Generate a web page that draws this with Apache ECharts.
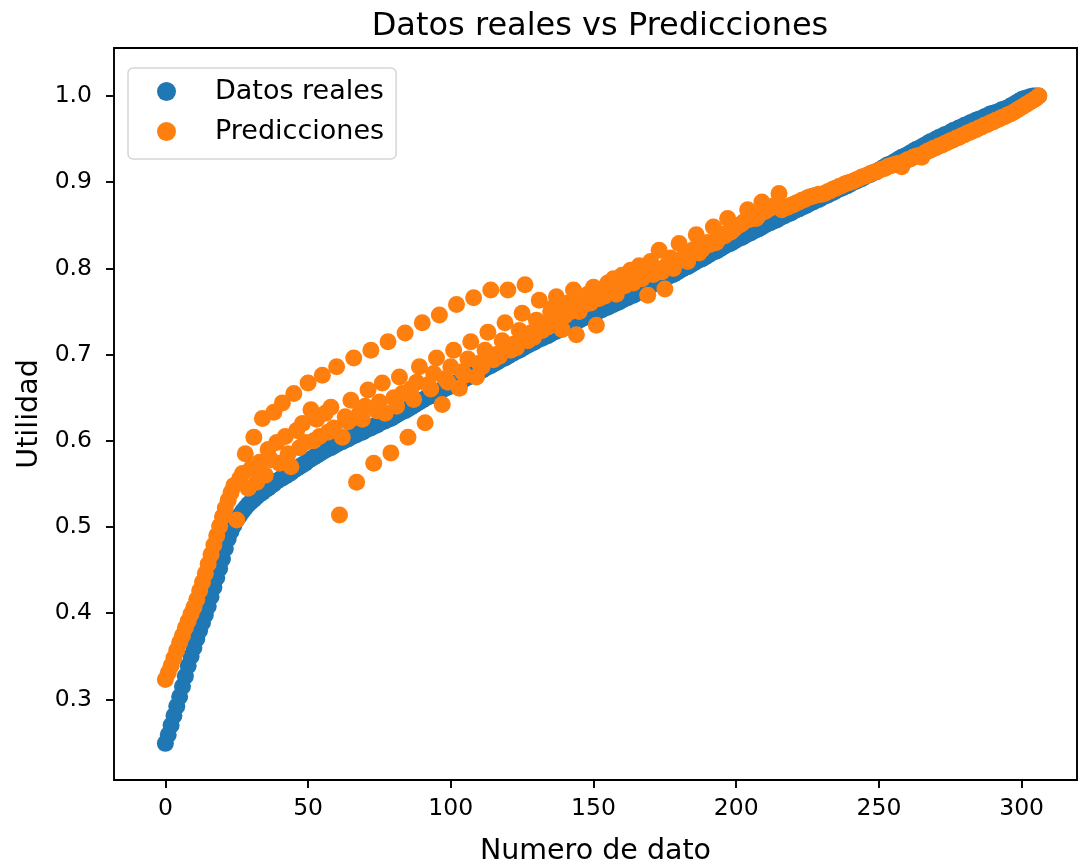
<!DOCTYPE html>
<html><head><meta charset="utf-8">
<script src="https://cdn.jsdelivr.net/npm/echarts@6/dist/echarts.min.js"></script>
<style>html,body{margin:0;padding:0;background:#fff}#c{width:1081px;height:866px}</style>
</head><body><div id="c"></div>
<script>
const chartTitle = 'Datos reales vs Predicciones';
const xName = 'Numero de dato';
const yName = 'Utilidad';
const seriesNames = ['Datos reales', 'Predicciones'];
const xTicks = [0, 50, 100, 150, 200, 250, 300];
const yTicks = [0.3, 0.4, 0.5, 0.6, 0.7, 0.8, 0.9, 1.0];

const datosReales = [
.249,.259,.270,.281,.292,.303,.315,.327,.339,.350,
.360,.370,.380,.389,.398,.408,.419,.430,.441,.452,
.463,.475,.486,.495,.502,.508,.513,.518,.522,.526,
.529,.532,.535,.538,.540,.543,.545,.548,.550,.553,
.555,.557,.559,.561,.563,.566,.568,.570,.572,.574,
.577,.579,.581,.583,.585,.587,.589,.591,.592,.594,
.596,.598,.599,.601,.602,.604,.606,.607,.609,.610,
.612,.614,.615,.617,.618,.620,.622,.623,.625,.626,
.628,.630,.632,.634,.635,.637,.639,.641,.643,.645,
.647,.649,.651,.652,.654,.656,.658,.659,.661,.662,
.664,.666,.667,.669,.670,.672,.674,.675,.677,.678,
.680,.682,.684,.686,.687,.689,.691,.693,.695,.696,
.698,.700,.702,.704,.705,.707,.709,.711,.713,.714,
.716,.718,.719,.721,.722,.724,.726,.727,.729,.730,
.732,.734,.735,.737,.738,.740,.742,.743,.745,.746,
.748,.749,.751,.752,.754,.755,.757,.758,.760,.761,
.763,.765,.766,.768,.769,.771,.773,.775,.776,.778,
.780,.782,.783,.785,.786,.788,.790,.792,.793,.795,
.797,.799,.801,.802,.804,.806,.808,.810,.811,.813,
.815,.817,.819,.820,.822,.824,.826,.828,.829,.831,
.833,.835,.836,.838,.840,.841,.843,.845,.846,.848,
.850,.852,.853,.855,.856,.858,.860,.861,.863,.864,
.866,.868,.869,.871,.872,.874,.876,.877,.879,.880,
.882,.884,.885,.887,.888,.890,.892,.893,.895,.896,
.898,.900,.901,.903,.904,.906,.908,.909,.911,.912,
.914,.916,.918,.920,.921,.923,.925,.927,.929,.930,
.932,.934,.936,.938,.939,.941,.943,.945,.947,.948,
.950,.952,.953,.955,.956,.958,.960,.961,.963,.964,
.966,.967,.969,.970,.972,.973,.974,.976,.977,.979,
.980,.981,.982,.984,.985,.986,.988,.990,.992,.994,
.996,.997,.998,.999,1.000,1.000,1.000
];

const predicciones = [
.323,.331,.339,.348,.357,.366,.374,.383,.391,.399,
.407,.416,.426,.436,.446,.457,.468,.479,.490,.501,
.512,.522,.531,.540,.548,.508,.556,.562,.585,.545,
.568,.604,.552,.575,.626,.560,.590,.578,.633,.598,
.574,.644,.605,.585,.570,.655,.612,.592,.620,.598,
.667,.636,.600,.625,.605,.676,.632,.610,.639,.615,
.686,.514,.604,.628,.622,.647,.696,.552,.632,.625,
.640,.659,.705,.574,.635,.645,.667,.632,.715,.586,
.650,.640,.674,.655,.725,.604,.660,.648,.668,.686,
.737,.621,.665,.660,.678,.696,.746,.642,.672,.668,
.686,.705,.758,.661,.680,.676,.695,.715,.766,.674,
.690,.686,.705,.726,.775,.694,.700,.698,.716,.737,
.775,.705,.712,.708,.728,.748,.781,.716,.725,.720,
.740,.763,.728,.735,.732,.750,.755,.767,.740,.729,
.745,.760,.750,.775,.723,.750,.765,.758,.770,.760,
.778,.734,.765,.775,.768,.783,.772,.788,.770,.778,
.792,.780,.785,.798,.783,.790,.803,.788,.795,.769,
.808,.793,.800,.821,.796,.776,.805,.812,.800,.808,
.829,.810,.815,.808,.818,.822,.839,.818,.822,.826,
.830,.828,.848,.830,.835,.840,.838,.858,.842,.845,
.848,.850,.852,.855,.868,.857,.860,.858,.862,.877,
.866,.868,.870,.872,.874,.887,.868,.870,.871,.873,
.874,.876,.877,.879,.880,.882,.883,.884,.885,.886,
.886,.887,.889,.890,.892,.893,.895,.896,.898,.899,
.900,.901,.903,.904,.906,.907,.908,.910,.911,.912,
.914,.915,.916,.918,.919,.920,.921,.922,.918,.924,
.926,.927,.929,.930,.931,.929,.934,.936,.937,.939,
.940,.942,.943,.945,.946,.948,.949,.951,.952,.954,
.955,.957,.958,.960,.961,.963,.964,.966,.967,.969,
.970,.972,.973,.975,.976,.978,.979,.981,.983,.985,
.987,.989,.991,.993,.995,.997,1.000
];

const FONT = 'DejaVu Sans';
const chart = echarts.init(document.getElementById('c'), null, {renderer: 'canvas'});
const toPoints = arr => arr.map((v, i) => [i, v]);

chart.setOption({
  animation: false,
  backgroundColor: '#ffffff',
  title: {
    text: chartTitle,
    left: 600, top: 11, textAlign: 'center', padding: 0,
    textStyle: {fontFamily: FONT, fontSize: 32, fontWeight: 'normal', color: '#000'}
  },
  legend: {
    orient: 'vertical',
    left: 128, top: 68,
    padding: [10, 12, 14, 29],
    itemGap: 13,
    itemWidth: 19, itemHeight: 19,
    icon: 'circle',
    backgroundColor: '#fff',
    borderColor: '#d6d6d6', borderWidth: 1.5, borderRadius: 5,
    textStyle: {fontFamily: FONT, fontSize: 27, color: '#000', padding: [0, 0, 0, 34], lineHeight: 27},
    data: seriesNames
  },
  grid: {
    left: 114, right: 4, top: 48, bottom: 86,
    show: true, borderColor: '#000', borderWidth: 1.9,
    outerBoundsMode: 'none'
  },
  xAxis: {
    type: 'value',
    min: -18, max: 319.4,
    name: xName, nameLocation: 'middle', nameGap: 57,
    nameTextStyle: {fontFamily: FONT, fontSize: 28.5, color: '#000'},
    axisLine: {show: false, onZero: false},
    splitLine: {show: false},
    axisTick: {show: true, length: 8, lineStyle: {color: '#000', width: 1.9}, customValues: xTicks},
    axisLabel: {fontFamily: FONT, fontSize: 23.5, color: '#000', margin: 17, customValues: xTicks}
  },
  yAxis: {
    type: 'value',
    min: 0.2065, max: 1.0557,
    name: yName, nameLocation: 'middle', nameGap: 70, nameRotate: 90,
    nameTextStyle: {fontFamily: FONT, fontSize: 28.5, color: '#000'},
    axisLine: {show: false, onZero: false},
    splitLine: {show: false},
    axisTick: {show: true, length: 8, lineStyle: {color: '#000', width: 1.9}, customValues: yTicks},
    axisLabel: {fontFamily: FONT, fontSize: 23.5, color: '#000', margin: 22, customValues: yTicks,
      formatter: v => v.toFixed(1)}
  },
  series: [
    {name: seriesNames[0], type: 'scatter', symbol: 'circle', symbolSize: 17,
     itemStyle: {color: '#1f77b4', opacity: 1}, data: toPoints(datosReales)},
    {name: seriesNames[1], type: 'scatter', symbol: 'circle', symbolSize: 17,
     itemStyle: {color: '#ff7f0e', opacity: 1}, data: toPoints(predicciones)}
  ]
});
</script>
</body></html>
